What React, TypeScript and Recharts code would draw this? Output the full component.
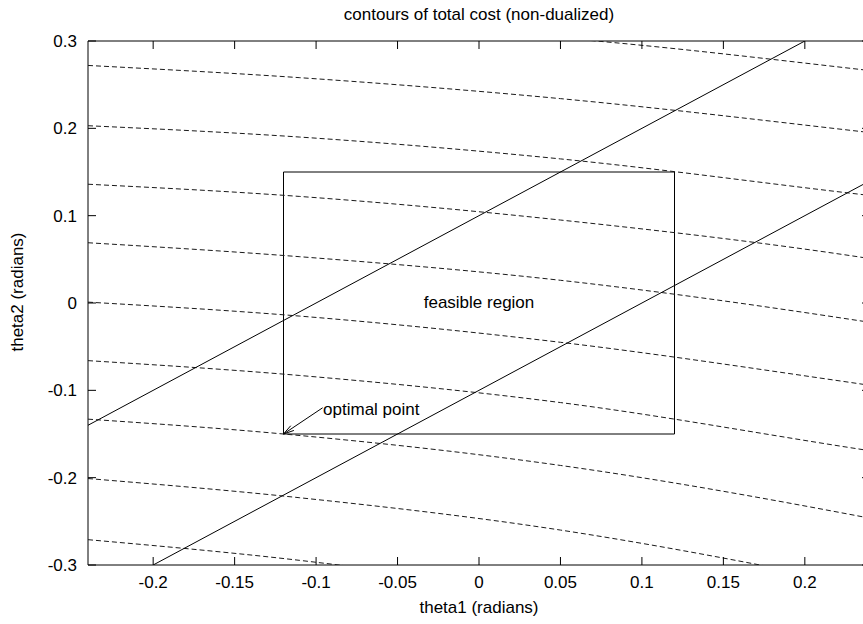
import React from 'react';
import {
  LineChart,
  Line,
  XAxis,
  YAxis,
  ReferenceArea,
  ReferenceLine,
  ReferenceDot,
} from 'recharts';

const FONT = '"Liberation Sans", Arial, Helvetica, sans-serif';
const INK = '#000000';
const FONT_SIZE = 17;

const TITLE = 'contours of total cost (non-dualized)';
const X_LABEL = 'theta1 (radians)';
const Y_LABEL = 'theta2 (radians)';
const REGION_LABEL = 'feasible region';
const OPTIMUM_LABEL = 'optimal point';

const xDomain = [-0.24, 0.24];
const yDomain = [-0.3, 0.3];
const xTicks = [-0.2, -0.15, -0.1, -0.05, 0, 0.05, 0.1, 0.15, 0.2];
const yTicks = [-0.3, -0.2, -0.1, 0, 0.1, 0.2, 0.3];

// feasible box
const box = { x1: -0.12, x2: 0.12, y1: -0.15, y2: 0.15 };

// the two solid constraint lines
const upperConstraint = [
  { x: -0.24, y: -0.14 },
  { x: 0.2, y: 0.3 },
];
const lowerConstraint = [
  { x: -0.2, y: -0.3 },
  { x: 0.24, y: 0.14 },
];

// dashed cost contours, top to bottom
const contourT = [
  { x: 0.0, y: 0.311 },
  { x: 0.072, y: 0.3 },
  { x: 0.236, y: 0.267 },
  { x: 0.25, y: 0.264 },
];
const contourA = [
  { x: -0.24, y: 0.272 },
  { x: -0.11, y: 0.258 },
  { x: 0.05, y: 0.234 },
  { x: 0.236, y: 0.196 },
  { x: 0.25, y: 0.193 },
];
const contourB = [
  { x: -0.24, y: 0.203 },
  { x: -0.11, y: 0.19 },
  { x: 0.05, y: 0.165 },
  { x: 0.236, y: 0.124 },
  { x: 0.25, y: 0.121 },
];
const contourC = [
  { x: -0.24, y: 0.136 },
  { x: -0.11, y: 0.122 },
  { x: 0.05, y: 0.095 },
  { x: 0.236, y: 0.052 },
  { x: 0.25, y: 0.048 },
];
const contourD = [
  { x: -0.24, y: 0.069 },
  { x: -0.11, y: 0.053 },
  { x: 0.05, y: 0.026 },
  { x: 0.236, y: -0.021 },
  { x: 0.25, y: -0.025 },
];
const contourE = [
  { x: -0.24, y: 0.001 },
  { x: -0.11, y: -0.015 },
  { x: 0.05, y: -0.045 },
  { x: 0.217, y: -0.088 },
  { x: 0.25, y: -0.097 },
];
const contourF = [
  { x: -0.24, y: -0.066 },
  { x: -0.11, y: -0.083 },
  { x: 0.05, y: -0.114 },
  { x: 0.236, y: -0.168 },
  { x: 0.25, y: -0.172 },
];
const contourG = [
  { x: -0.24, y: -0.133 },
  { x: -0.12, y: -0.15 },
  { x: 0.05, y: -0.186 },
  { x: 0.236, y: -0.245 },
  { x: 0.25, y: -0.25 },
];
const contourH = [
  { x: -0.24, y: -0.201 },
  { x: -0.11, y: -0.223 },
  { x: 0.05, y: -0.26 },
  { x: 0.1725, y: -0.3 },
  { x: 0.2, y: -0.31 },
];
const contourI = [
  { x: -0.24, y: -0.271 },
  { x: -0.11, y: -0.2947 },
  { x: -0.086, y: -0.3 },
  { x: -0.05, y: -0.308 },
];

const contours = [
  contourT,
  contourA,
  contourB,
  contourC,
  contourD,
  contourE,
  contourF,
  contourG,
  contourH,
  contourI,
];

const optimum = { x: -0.12, y: -0.15 };
const optimumLabelAt = { x: -0.096, y: -0.12 };
const regionLabelAt = { x: 0, y: 0 };

// layout, page pixels (svg sits at the page's top-left corner)
const W = 878;
const H = 624;
const PLOT_TOP = 41;
const PLOT_LEFT = 88;
const PLOT_RIGHT = 870;
const PLOT_BOTTOM = 565;
const TICK = 8;

const XTick = (props: any) => {
  const { x, y, payload } = props;
  return (
    <g>
      <line x1={x} x2={x} y1={PLOT_BOTTOM} y2={PLOT_BOTTOM - TICK} stroke={INK} />
      <line x1={x} x2={x} y1={PLOT_TOP} y2={PLOT_TOP + TICK} stroke={INK} />
      <text x={x} y={y} textAnchor="middle" fontSize={FONT_SIZE} fill={INK}>
        {String(payload.value)}
      </text>
    </g>
  );
};

const YTick = (props: any) => {
  const { x, y, payload } = props;
  return (
    <g>
      <line x1={PLOT_LEFT} x2={PLOT_LEFT + TICK} y1={y} y2={y} stroke={INK} />
      <line x1={PLOT_RIGHT} x2={PLOT_RIGHT - TICK} y1={y} y2={y} stroke={INK} />
      <text x={x} y={y + 6} textAnchor="end" fontSize={FONT_SIZE} fill={INK}>
        {String(payload.value)}
      </text>
    </g>
  );
};

const YLabel = () => (
  <text
    transform="translate(22.5 292) rotate(-90)"
    textAnchor="middle"
    fontSize={FONT_SIZE}
    fill={INK}
  >
    {Y_LABEL}
  </text>
);

// arrow from the label to the optimal point, drawn in pixel space
const arrowShape = (p: any) => {
  const { x1, y1, x2, y2 } = p;
  const back = Math.atan2(y1 - y2, x1 - x2);
  const len = 11;
  const spread = Math.PI / 12;
  const h1x = x2 + len * Math.cos(back + spread);
  const h1y = y2 + len * Math.sin(back + spread);
  const h2x = x2 + len * Math.cos(back - spread);
  const h2y = y2 + len * Math.sin(back - spread);
  return (
    <g>
      <line x1={x1} y1={y1} x2={x2} y2={y2} stroke={INK} />
      <line x1={x2} y1={y2} x2={h1x} y2={h1y} stroke={INK} />
      <line x1={x2} y1={y2} x2={h2x} y2={h2y} stroke={INK} />
      <text x={x1 + 0.5} y={y1 + 7} fontSize={FONT_SIZE} fill={INK}>
        {OPTIMUM_LABEL}
      </text>
    </g>
  );
};

const regionShape = (p: any) => (
  <text x={p.cx} y={p.cy + 5} textAnchor="middle" fontSize={FONT_SIZE} fill={INK}>
    {REGION_LABEL}
  </text>
);

export default function App() {
  return (
    <div
      style={{
        position: 'absolute',
        left: 0,
        top: 0,
        width: 863,
        height: 624,
        overflow: 'hidden',
        fontFamily: FONT,
        background: '#fff',
      }}
    >
      <LineChart
        width={W}
        height={H}
        margin={{ top: PLOT_TOP, right: W - PLOT_RIGHT, left: 0, bottom: 0 }}
      >
        <XAxis
          type="number"
          dataKey="x"
          domain={xDomain}
          allowDataOverflow
          ticks={xTicks}
          interval={0}
          height={H - PLOT_BOTTOM}
          tickSize={0}
          tickMargin={23}
          tickLine={false}
          axisLine={false}
          tick={<XTick />}
          label={{
            value: X_LABEL,
            position: 'insideBottom',
            offset: 11,
            fill: INK,
            fontSize: FONT_SIZE,
          }}
        />
        <YAxis
          type="number"
          dataKey="y"
          domain={yDomain}
          allowDataOverflow
          ticks={yTicks}
          interval={0}
          width={PLOT_LEFT}
          tickSize={0}
          tickMargin={11}
          tickLine={false}
          axisLine={false}
          tick={<YTick />}
          label={{ content: <YLabel /> }}
        />

        <ReferenceArea
          x1={xDomain[0]}
          x2={xDomain[1]}
          y1={yDomain[0]}
          y2={yDomain[1]}
          fill="none"
          fillOpacity={0}
          stroke={INK}
          strokeWidth={1}
          label={{
            value: TITLE,
            position: 'top',
            offset: 21,
            fill: INK,
            fontSize: FONT_SIZE,
          }}
        />

        {contours.map((c, i) => (
          <Line
            key={`contour-${i}`}
            data={c}
            dataKey="y"
            type="monotone"
            stroke="#1a1a1a"
            strokeWidth={1}
            strokeDasharray="5 3"
            dot={false}
            activeDot={false}
            isAnimationActive={false}
          />
        ))}

        <Line
          data={upperConstraint}
          dataKey="y"
          type="linear"
          stroke={INK}
          strokeWidth={1}
          dot={false}
          activeDot={false}
          isAnimationActive={false}
        />
        <Line
          data={lowerConstraint}
          dataKey="y"
          type="linear"
          stroke={INK}
          strokeWidth={1}
          dot={false}
          activeDot={false}
          isAnimationActive={false}
        />

        <ReferenceArea
          x1={box.x1}
          x2={box.x2}
          y1={box.y1}
          y2={box.y2}
          fill="none"
          fillOpacity={0}
          stroke={INK}
          strokeWidth={1}
        />

        <ReferenceDot
          x={regionLabelAt.x}
          y={regionLabelAt.y}
          r={0}
          shape={regionShape}
        />
        <ReferenceLine
          segment={[optimumLabelAt, optimum]}
          stroke={INK}
          shape={arrowShape}
        />
      </LineChart>
    </div>
  );
}
